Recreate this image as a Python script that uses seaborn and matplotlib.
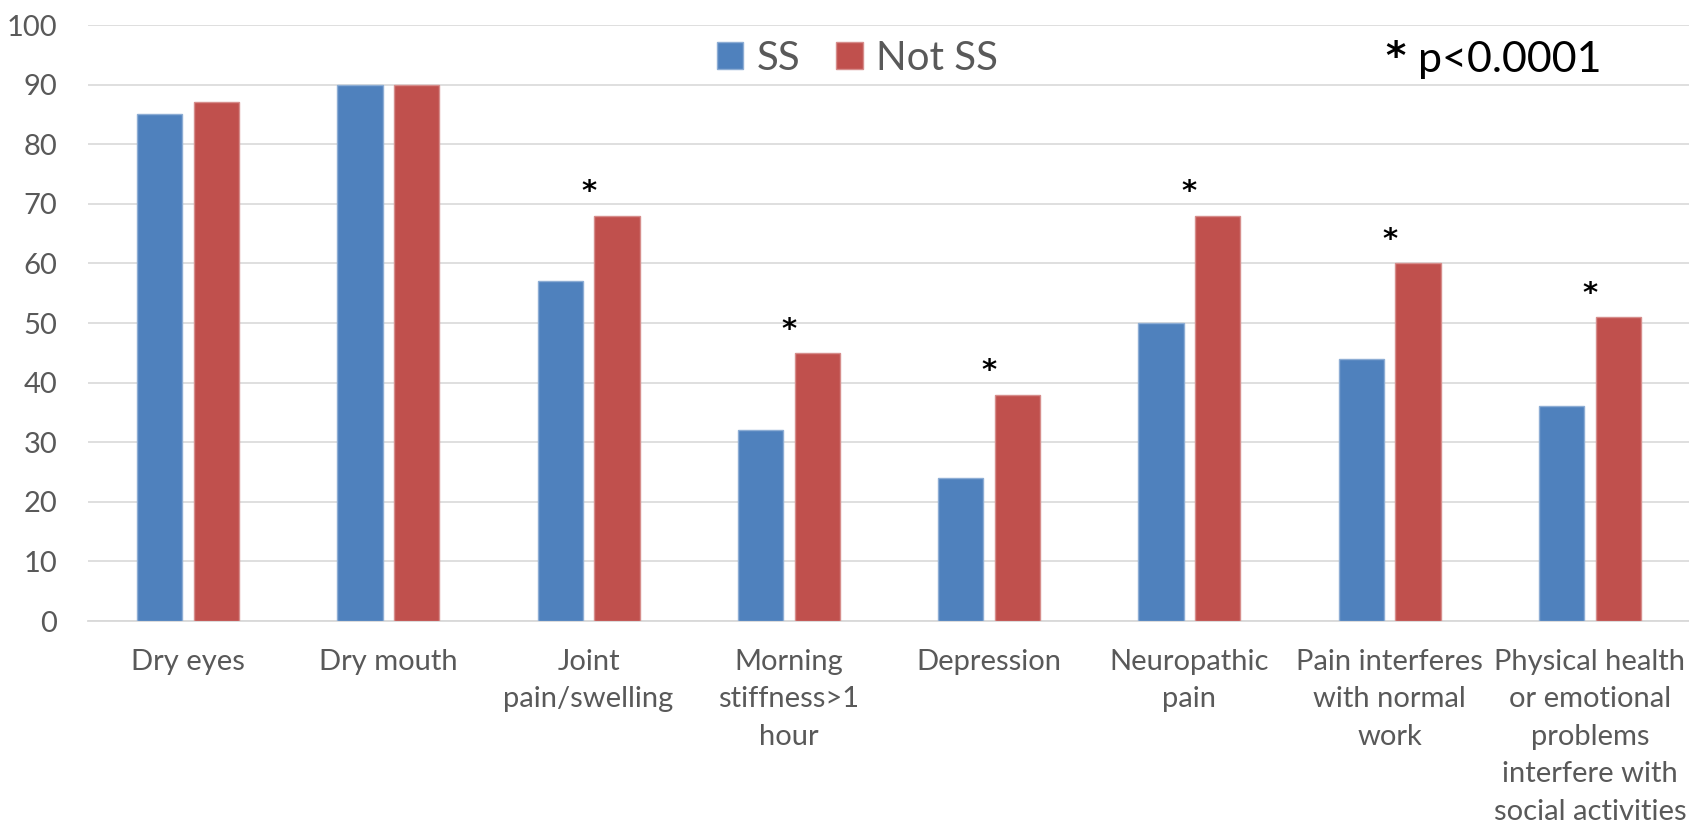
import matplotlib
matplotlib.use("Agg")
import matplotlib.pyplot as plt
import matplotlib.colors as mcolors
import numpy as np
import pandas as pd
import seaborn as sns

# Symptom prevalence (%) by group
symptoms = [
    "Dry eyes",
    "Dry mouth",
    "Joint\npain/swelling",
    "Morning\nstiffness>1\nhour",
    "Depression",
    "Neuropathic\npain",
    "Pain interferes\nwith normal\nwork",
    "Physical health\nor emotional\nproblems\ninterfere with\nsocial activities",
]
ss_pct = [85, 90, 57, 32, 24, 50, 44, 36]
not_ss_pct = [87, 90, 68, 45, 38, 68, 60, 51]
significant = [False, False, True, True, True, True, True, True]
groups = ["SS", "Not SS"]
group_colors = ["#4F81BD", "#C0504D"]
y_ticks = list(range(0, 101, 10))
star = "*"
note = "p<0.0001"

df = pd.DataFrame({
    "symptom": symptoms * 2,
    "group": [groups[0]] * len(symptoms) + [groups[1]] * len(symptoms),
    "pct": ss_pct + not_ss_pct,
})

sns.set_theme(style="white")
plt.rcParams["font.family"] = ["Lato", "DejaVu Sans"]

W, H = 1690, 826
fig = plt.figure(figsize=(W / 100, H / 100), dpi=100)
ax = fig.add_axes([88 / W, 205 / H, 1602 / W, 596 / H])

sns.barplot(
    data=df, x="symptom", y="pct", hue="group",
    order=symptoms, hue_order=groups, palette=group_colors,
    width=0.565, gap=0.2, saturation=1, errorbar=None, ax=ax, zorder=3,
)

# thin light outline on each bar
for p in ax.patches:
    fc = np.array(mcolors.to_rgb(p.get_facecolor()))
    p.set_edgecolor(tuple(fc + (1 - fc) * 0.35))
    p.set_linewidth(1.0)

ax.set_xlim(-0.5, len(symptoms) - 0.5)
ax.set_ylim(0, 100)
ax.set_yticks(y_ticks)
ax.set_xlabel("")
ax.set_ylabel("")
ax.set_axisbelow(True)
ax.yaxis.grid(True, color="#D9D9D9", linewidth=1.2)
ax.xaxis.grid(False)
for side in ("left", "right", "top"):
    ax.spines[side].set_visible(False)
ax.spines["bottom"].set_color("#D9D9D9")
ax.spines["bottom"].set_linewidth(1.3)
ax.tick_params(axis="both", length=0, labelsize=21, labelcolor="#595959")
ax.tick_params(axis="x", pad=20)
ax.tick_params(axis="y", pad=22)
for lbl in ax.get_xticklabels():
    lbl.set_linespacing(1.55)

# significance markers above the Not SS bars
star_fs = 21
for i, flag in enumerate(significant):
    if flag:
        ax.annotate(star, xy=(i, not_ss_pct[i] + 5.5), xytext=(0, -0.6 * star_fs),
                    textcoords="offset points", ha="center", va="baseline",
                    fontsize=star_fs, fontweight="bold", family="DejaVu Sans",
                    color="black", zorder=4)

handles, labels = ax.get_legend_handles_labels()
ax.legend(
    handles, labels, ncol=2, frameon=False, loc="center",
    bbox_to_anchor=(857.5 / W, 1 - 58 / H), bbox_transform=fig.transFigure,
    fontsize=29, handlelength=0.65, handleheight=0.65, handletextpad=0.33,
    columnspacing=0.9, labelcolor="#595959", borderaxespad=0, borderpad=0,
)

fig.text(1395 / W, 1 - 69 / H, star, ha="center", va="baseline",
         fontsize=28, fontweight="bold", family="DejaVu Sans", color="black")
fig.text(1418 / W, 1 - 72 / H, note, ha="left", va="baseline",
         fontsize=31, color="black")

fig.savefig("out.png", dpi=100)
